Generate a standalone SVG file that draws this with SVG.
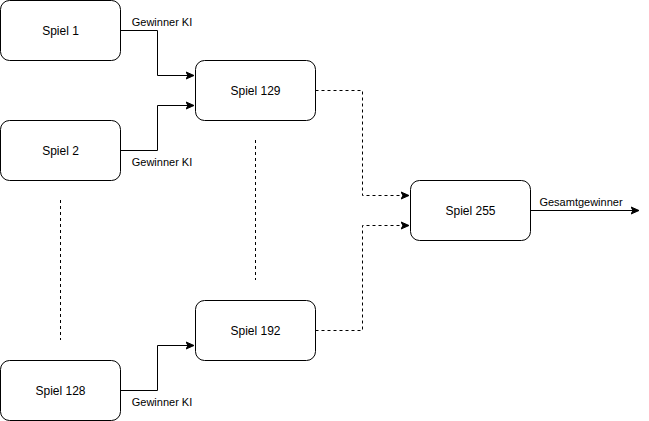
<svg xmlns="http://www.w3.org/2000/svg" width="649" height="421" viewBox="0 0 649 421">
<style>
.n{fill:#fff;stroke:#000;stroke-width:1}
.t{font-family:"Liberation Sans",Arial,sans-serif;font-size:12px;text-anchor:middle;fill:#000}
.l{font-family:"Liberation Sans",Arial,sans-serif;font-size:11px;text-anchor:middle;fill:#000}
.e{fill:none;stroke:#000;stroke-width:1}
.d{stroke-dasharray:3 3}
</style>
<defs>
<marker id="a" markerWidth="10" markerHeight="10" refX="7" refY="5" orient="auto" markerUnits="userSpaceOnUse">
<path d="M0,1.5 L8,5 L0,8.5 L2,5 Z" fill="#000" stroke="#000" stroke-width="1"/>
</marker>
</defs>
<rect width="649" height="421" fill="#fff"/>
<g id="connectors">
<path class="e" d="M120.5,30.5 H157.5 V75.5 H193" marker-end="url(#a)"/>
<path class="e" d="M120.5,150.5 H157.5 V105.5 H193" marker-end="url(#a)"/>
<path class="e" d="M120.5,390.5 H157.5 V345.5 H193" marker-end="url(#a)"/>
<path class="e d" d="M315.5,90.5 H362.5 V195.5 H408" marker-end="url(#a)"/>
<path class="e d" d="M315.5,330.5 H362.5 V225.5 H408" marker-end="url(#a)"/>
<path class="e" d="M530.5,210.5 H638" marker-end="url(#a)"/>
<path class="e d" d="M60.5,200 V340"/>
<path class="e d" d="M255.5,140 V280"/>
<text class="l" x="162" y="26">Gewinner KI</text>
<text class="l" x="162" y="166">Gewinner KI</text>
<text class="l" x="162" y="406">Gewinner KI</text>
<text class="l" x="581" y="206">Gesamtgewinner</text>
</g>
<g id="spiel1"><rect class="n" x="0.5" y="0.5" width="120" height="60" rx="9"/><text class="t" x="60.5" y="35">Spiel 1</text></g>
<g id="spiel2"><rect class="n" x="0.5" y="120.5" width="120" height="60" rx="9"/><text class="t" x="60.5" y="155">Spiel 2</text></g>
<g id="spiel128"><rect class="n" x="0.5" y="360.5" width="120" height="60" rx="9"/><text class="t" x="60.5" y="395">Spiel 128</text></g>
<g id="spiel129"><rect class="n" x="195.5" y="60.5" width="120" height="60" rx="9"/><text class="t" x="255.5" y="95">Spiel 129</text></g>
<g id="spiel192"><rect class="n" x="195.5" y="300.5" width="120" height="60" rx="9"/><text class="t" x="255.5" y="335">Spiel 192</text></g>
<g id="spiel255"><rect class="n" x="410.5" y="180.5" width="120" height="60" rx="9"/><text class="t" x="470.5" y="215">Spiel 255</text></g>
</svg>
